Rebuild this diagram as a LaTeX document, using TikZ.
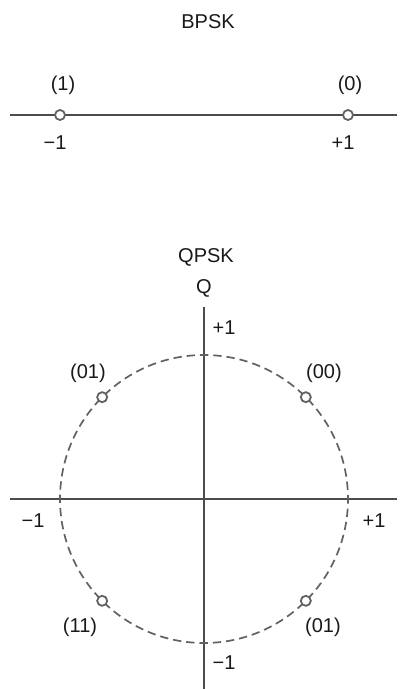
\documentclass[tikz,border=0pt]{standalone}
\usepackage{fontspec}
\setmainfont{Liberation Sans}
\usetikzlibrary{calc}

\begin{document}
\begin{tikzpicture}[
  x=1pt, y=1pt,
  axis/.style={line width=2.2pt, draw=black!70},
  ring/.style={dashed, dash pattern=on 8.3pt off 5pt, dash phase=4.15pt, line width=1.7pt, draw=black!62},
  sym/.style={circle, draw=black!62, fill=white, line width=1.8pt, inner sep=0pt, minimum size=10pt},
  lbl/.style={font=\fontsize{20}{24}\selectfont, text=black!90, inner sep=0pt}
]
\useasboundingbox (0,0) rectangle (415,689);

% BPSK
\node[lbl] (bpsk) at (208,667) {BPSK};
\coordinate (bl) at (10,574);
\coordinate (br) at (397,574);
\draw[axis] (bl) -- (br);
\node[sym] (s1) at (60,574) {};
\node[sym] (s0) at (348,574) {};
\node[lbl] (b1) at (63,604) {(1)};
\node[lbl] (b0) at (350,604) {(0)};
\node[lbl] (bm) at (55,546) {−1};
\node[lbl] (bp) at (343,546) {+1};

% QPSK
\node[lbl] (qpsk) at (206,432) {QPSK};
\node[lbl] (qax) at (204,401) {Q};
\coordinate (o) at (204,190);
\coordinate (qt) at (204,382);
\coordinate (qb) at (204,0);
\coordinate (il) at (10,190);
\coordinate (ir) at (397,190);
\draw[axis] (qt) -- (qb);
\draw[axis] (il) -- (ir);
\draw[ring] (o) circle[radius=144];
\foreach \a/\n in {45/p00, 135/p01, 225/p11, -45/p10}
  \node[sym] (\n) at ($(o)+(\a:144)$) {};
\node[lbl] (l01) at (88,316) {(01)};
\node[lbl] (l00) at (324,316) {(00)};
\node[lbl] (l11) at (80,62) {(11)};
\node[lbl] (l10) at (323,62) {(01)};
\node[lbl] (qp) at (224,361) {+1};
\node[lbl] (im) at (33,168) {−1};
\node[lbl] (ip) at (374,168) {+1};
\node[lbl] (qm) at (224,26) {−1};

\end{tikzpicture}
\end{document}
